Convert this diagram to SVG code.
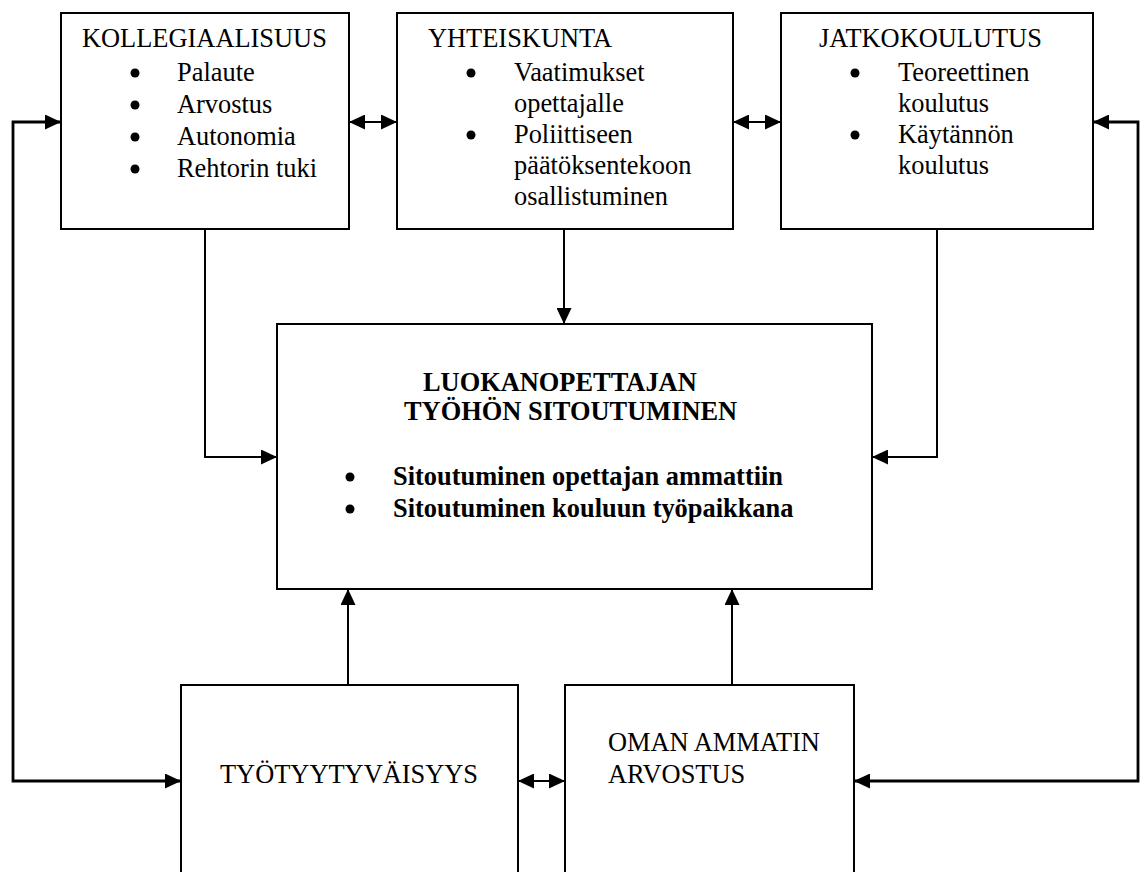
<svg xmlns="http://www.w3.org/2000/svg" width="1141" height="872" viewBox="0 0 1141 872">
<defs>
<style>
.box{fill:#fff;stroke:#000;stroke-width:2}
.t{font-family:"Liberation Serif","DejaVu Serif",serif;font-size:26.4px;fill:#000}
.b{font-weight:bold}
.c{fill:none;stroke:#000;stroke-width:2}
.cw{fill:none;stroke:#000;stroke-width:2.8}
.dot{fill:#000}
</style>
<marker id="ah" markerUnits="userSpaceOnUse" markerWidth="17" markerHeight="15" refX="16" refY="7.5" orient="auto-start-reverse" viewBox="0 0 17 15">
<path d="M0,0 L16,7.5 L0,15 Z" fill="#000"/>
</marker>
</defs>
<rect width="1141" height="872" fill="#fff"/>

<g id="connectors">
<line class="c" x1="349" y1="122" x2="397" y2="122" marker-start="url(#ah)" marker-end="url(#ah)"/>
<line class="c" x1="733" y1="122" x2="781" y2="122" marker-start="url(#ah)" marker-end="url(#ah)"/>
<line class="c" x1="518" y1="781" x2="565" y2="781" marker-start="url(#ah)" marker-end="url(#ah)"/>
<polyline class="cw" points="181,781 13,781 13,122 61,122" marker-start="url(#ah)" marker-end="url(#ah)"/>
<polyline class="cw" points="1093,122 1138,122 1138,781 854,781" marker-start="url(#ah)" marker-end="url(#ah)"/>
<polyline class="c" points="205,229 205,457 277,457" marker-end="url(#ah)"/>
<polyline class="c" points="937,229 937,457 872,457" marker-end="url(#ah)"/>
<line class="c" x1="564" y1="229" x2="564" y2="324" marker-end="url(#ah)"/>
<line class="c" x1="348" y1="685" x2="348" y2="589" marker-end="url(#ah)"/>
<line class="c" x1="732" y1="685" x2="732" y2="589" marker-end="url(#ah)"/>
</g>

<g id="kollegiaalisuus">
<rect class="box" x="61" y="13" width="288" height="216"/>
<text class="t" x="82" y="47">KOLLEGIAALISUUS</text>
<circle class="dot" cx="135" cy="73" r="4.5"/>
<circle class="dot" cx="135" cy="105" r="4.5"/>
<circle class="dot" cx="135" cy="137" r="4.5"/>
<circle class="dot" cx="135" cy="169" r="4.5"/>
<text class="t" x="177" y="81">Palaute</text>
<text class="t" x="177" y="113">Arvostus</text>
<text class="t" x="177" y="145">Autonomia</text>
<text class="t" x="177" y="177">Rehtorin tuki</text>
</g>

<g id="yhteiskunta">
<rect class="box" x="397" y="13" width="336" height="216"/>
<text class="t" x="428" y="47">YHTEISKUNTA</text>
<circle class="dot" cx="471" cy="73" r="4.5"/>
<circle class="dot" cx="471" cy="135" r="4.5"/>
<text class="t" x="514" y="81">Vaatimukset</text>
<text class="t" x="514" y="112">opettajalle</text>
<text class="t" x="514" y="143">Poliittiseen</text>
<text class="t" x="514" y="174">päätöksentekoon</text>
<text class="t" x="514" y="205">osallistuminen</text>
</g>

<g id="jatkokoulutus">
<rect class="box" x="781" y="13" width="312" height="216"/>
<text class="t" x="819" y="47">JATKOKOULUTUS</text>
<circle class="dot" cx="855" cy="73" r="4.5"/>
<circle class="dot" cx="855" cy="135" r="4.5"/>
<text class="t" x="898" y="81">Teoreettinen</text>
<text class="t" x="898" y="112">koulutus</text>
<text class="t" x="898" y="143">Käytännön</text>
<text class="t" x="898" y="174">koulutus</text>
</g>

<g id="sitoutuminen">
<rect class="box" x="277" y="324" width="595" height="265"/>
<text class="t b" x="423" y="391">LUOKANOPETTAJAN</text>
<text class="t b" x="404" y="420">TYÖHÖN SITOUTUMINEN</text>
<circle class="dot" cx="350" cy="477" r="4.5"/>
<circle class="dot" cx="350" cy="509" r="4.5"/>
<text class="t b" x="393" y="485">Sitoutuminen opettajan ammattiin</text>
<text class="t b" x="393" y="517">Sitoutuminen kouluun työpaikkana</text>
</g>

<g id="tyotyytyvaisyys">
<rect class="box" x="181" y="685" width="337" height="200"/>
<text class="t" x="220" y="783">TYÖTYYTYVÄISYYS</text>
</g>

<g id="oman-ammatin-arvostus">
<rect class="box" x="565" y="685" width="289" height="200"/>
<text class="t" x="608" y="751">OMAN AMMATIN</text>
<text class="t" x="608" y="783">ARVOSTUS</text>
</g>
</svg>
